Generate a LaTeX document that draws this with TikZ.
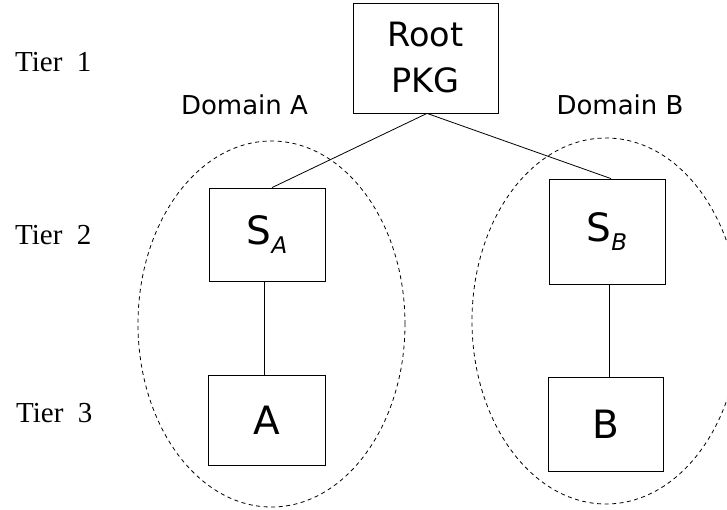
\documentclass[tikz,border=0pt]{standalone}
\usepackage{fontspec}
\setmainfont{Liberation Serif}
\newfontfamily\dv{DejaVu Sans}
\begin{document}
\begin{tikzpicture}[x=1pt,y=-1pt,
  box/.style={draw, line width=0.8pt, inner sep=0pt, align=center, font=\dv\fontsize{39}{39}\selectfont},
  link/.style={line width=0.8pt},
  domainline/.style={draw, line width=0.8pt, dash pattern=on 4pt off 3.5pt},
  tier/.style={anchor=base west, inner sep=0pt, font=\fontsize{29}{29}\selectfont},
  dlabel/.style={anchor=base, inner sep=0pt, font=\dv\fontsize{26}{26}\selectfont}]
\useasboundingbox (0,0) rectangle (727,510);
\clip (0,0) rectangle (727,510);
\newcommand{\subx}[1]{\raisebox{-9pt}{\fontsize{23}{23}\selectfont\itshape #1}}
% domains
\draw[domainline] (271.5,324) ellipse [x radius=133.5pt, y radius=183pt];
\draw[domainline] (606,321) ellipse [x radius=134pt, y radius=183pt];
% boxes
\node[box, minimum width=145pt, minimum height=110pt, font=\dv\fontsize{33.5}{46}\selectfont] (root) at (425.5,58) {Root\\PKG};
\node[box, minimum width=116pt, minimum height=93pt] (SA) at (267,234.5) {S\subx{A}};
\node[box, minimum width=117pt, minimum height=90pt] (A) at (266.5,420) {A};
\node[box, minimum width=116pt, minimum height=105pt] (SB) at (607,231.5) {S\subx{B}};
\node[box, minimum width=115pt, minimum height=94pt] (B) at (605.5,424) {B};
% links
\draw[link] ([xshift=1.5pt]root.south) -- ([xshift=5pt]SA.north);
\draw[link] ([xshift=1.5pt]root.south) -- ([xshift=4pt]SB.north);
\draw[link] ([xshift=-3pt]SA.south) -- ([xshift=-2.5pt]A.north);
\draw[link] ([xshift=2pt]SB.south) -- ([xshift=3.5pt]B.north);
% labels
\node[dlabel] (dA) at (244.5,115) {Domain A};
\node[dlabel] (dB) at (620,115) {Domain B};
\node[tier] (t1) at (15,72) {Tier~~1};
\node[tier] (t2) at (15,245) {Tier~~2};
\node[tier] (t3) at (16,422) {Tier~~3};
\end{tikzpicture}
\end{document}
